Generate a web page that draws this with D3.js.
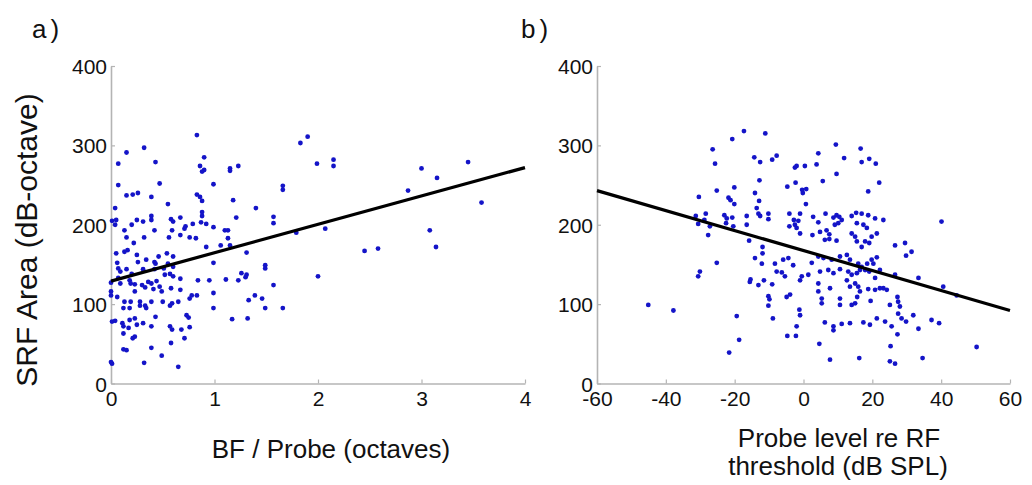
<!DOCTYPE html>
<html>
<head>
<meta charset="utf-8">
<script src="https://cdn.jsdelivr.net/npm/d3@7"></script>
<style>
  html, body { margin: 0; padding: 0; background: #fff; }
  svg { display: block; font-family: "Liberation Sans", Arial, sans-serif; }
</style>
</head>
<body>
<svg id="fig" width="1032" height="485"></svg>
<script>
// Panel a: SRF area vs BF / probe distance (octaves)
const pointsA = [
  [0.83,313],[1.90,311],[1.83,303],[0.32,297],[0.15,291],[0.90,285],[0.07,277],[0.43,279],[0.86,274],[0.90,269],
  [0.88,267],[1.15,271],[1.15,268],[1.23,274],[1.99,277],[2.15,282],[2.15,274],[0.07,250],[0.47,252],[0.99,251],
  [0.15,237],[0.21,238],[0.26,240],[0.39,235],[0.83,238],[0.86,235],[0.88,230],[1.66,249],[1.66,244],[1.18,231],
  [0.55,226],[0.04,221],[1.40,221],[0.88,216],[0.88,211],[0.01,205],[0.04,200],[0.05,206],[0.13,193],[0.20,200],
  [0.25,206],[0.31,204],[0.39,211],[0.39,206],[0.42,193],[0.58,207],[0.60,204],[0.67,209],[0.71,195],[0.72,198],
  [0.59,193],[0.79,201],[0.87,203],[0.92,201],[0.99,197],[1.10,193],[1.13,193],[1.21,209],[1.57,210],[1.57,202],
  [1.79,190],[2.07,195],[0.76,184],[0.82,183],[0.15,184],[0.32,184],[0.56,184],
  [0.22,177],[0.67,187],[0.92,172],[1.06,174],[1.13,183],[1.15,174],[0.16,168],[0.13,166],[0.05,164],[0.25,162],
  [0.26,153],[0.34,156],[0.42,153],[0.43,151],[0.46,160],[0.54,164],[0.60,160],[0.06,152],[0.07,145],[0.09,141],
  [0.15,144],[0.20,138],[0.31,144],[0.42,144],[0.51,145],[0.55,151],[0.60,147],[0.52,137],[0.57,138],[0.60,135],
  [0.67,132],[0.99,152],[1.31,165],[1.49,149],[1.49,145],[1.26,139],[1.30,134],[1.31,137],[1.23,130],[1.11,131],
  [0.95,130],[0.84,130],[2.00,135],[0.00,127],[0.00,116],[0.07,133],[0.09,126],[0.18,130],[0.19,126],[0.23,125],
  [0.30,124],[0.33,121],[0.36,128],[0.39,126],[0.44,129],[0.47,122],[0.49,116],[0.58,120],[0.67,118],[0.23,116],
  [0.41,119],[0.00,111],[0.06,109],[0.13,103],[0.12,95],[0.19,103],[0.18,95],[0.28,103],[0.28,98],[0.33,98],
  [0.34,95],[0.39,103],[0.50,103],[0.57,98],[0.59,101],[0.65,103],[0.76,107],[0.78,111],[0.83,111],[0.99,114],
  [0.99,95],[1.39,111],[1.46,107],[1.33,105],[1.49,95],[1.66,95],[1.17,81],[1.32,82],[0.01,78],[0.04,79],
  [0.11,76],[0.12,72],[0.18,80],[0.23,82],[0.25,74],[0.17,70],[0.12,63],[0.21,57],[0.23,59],[0.31,76],
  [0.39,72],[0.43,84],[0.57,72],[0.59,68],[0.68,68],[0.73,86],[0.75,83],[0.76,71],[0.71,57],[0.58,51],
  [0.12,43],[0.15,42],[0.39,45],[0.49,35],[0.32,26],[0.00,27],[0.01,25],[0.65,21],[1.57,124],
  [2.45,167],[2.58,170],[2.87,243],[3.00,271],[3.15,259],[3.08,193],[3.14,172],[3.45,279],[3.58,228]
];

// Panel b: SRF area vs probe level re RF threshold (dB SPL)
const pointsB = [
  [-17.3,318],[-11.1,315],[-20.7,308],[-26.4,295],[-25.7,277],[-14.3,285],[-12.6,279],[-9.1,282],[-7.8,287],[-2.5,272],
  [-2.0,274],[-12.8,256],[-2.3,253],[-25.2,243],[-20.1,247],[-4.7,248],[-30.4,235],[-21.8,234],[-21.2,231],[-14.1,240],
  [-20.1,226],[-12.9,230],[-13.6,221],[-13.1,214],[-12.6,211],[-10.2,214],[-10.2,207],[-31.3,211],[-28.4,214],[-23.0,212],
  [-22.3,208],[-20.7,209],[-16.5,211],[-4.1,214],[-2.8,206],[-1.5,205],[-4.1,198],[-2.5,200],[-27.2,198],[-30.6,201],
  [-28.8,206],
  [-27.7,187],[-22.5,202],[-20.4,198],[-16.5,200],[-15.8,180],[-11.9,172],[-11.9,164],[-14.1,158],[-25.2,152],[-30.1,141],
  [-30.6,135],[-12.1,151],[-8.3,151],[-5.9,156],[-4.4,158],[-3.0,149],[-7.8,141],[-6.3,140],[-5.4,135],[-15.4,131],
  [-15.6,128],[-13.1,124],[-11.5,130],[-9.1,125],[-1.0,130],[-10.2,110],[-9.9,106],[-4.9,109],[-3.9,112],[-10.2,98],
  [-1.2,93],[-1.0,86],[-8.9,82],[-2.0,72],[-45.1,99],[-37.8,92],[-19.4,85],[-18.7,55],[-21.6,39],[-4.7,60],
  [-2.2,60],[-1.0,189],[-2.0,196],
  [9.4,301],[16.6,296],[4.3,290],[11.8,284],[19.1,283],[21.0,277],[16.9,279],[0.4,274],[3.8,276],[9.6,264],
  [5.6,255],[22.0,253],[-0.4,244],[-0.2,240],[0.8,245],[18.8,242],[0.7,226],[40.1,204],[-1.0,214],[2.8,210],
  [4.3,203],[6.4,214],[8.7,209],[9.6,212],[10.4,210],[11.1,206],[10.1,202],[9.1,200],[14.0,211],[15.3,215],
  [16.9,214],[18.8,212],[20.8,208],[23.2,206],[15.5,202],[17.4,200],[18.4,196],[2.6,187],[4.8,191],[6.7,193],
  [7.5,188],[7.5,182],[6.2,181],[9.6,180],[14.0,189],[15.0,185],[15.5,179],[16.9,172],[17.9,179],[19.1,177],
  [19.8,185],[21.3,189],[26.6,174],[29.5,177],[31.4,166],[29.8,161],[2.4,152],[4.3,160],[5.8,158],[8.2,156],
  [10.6,160],[12.6,162],[13.5,156],[15.9,151],[16.9,147],[17.9,143],[19.1,141],[18.5,151],[19.8,156],[21.3,159],
  [20.3,151],[10.6,144],[13.0,141],[14.0,137],[15.5,139],[16.4,143],[-0.5,135],[1.4,137],[4.8,141],[7.2,143],
  [8.7,139],[22.2,143],[26.6,137],[33.4,133],[40.6,122],[44.5,111],[20.8,133],[23.2,120],[24.2,118],[12.6,130],
  [13.5,122],[15.0,126],[15.9,122],[16.4,116],[15.6,109],[15.0,101],[14.0,99],[4.3,126],[4.3,116],[5.3,107],
  [5.3,101],[7.7,120],[10.6,107],[10.6,99],[18.8,119],[20.8,118],[22.2,120],[19.5,104],[25.1,99],[27.3,109],
  [27.5,103],[28.0,97],[27.5,88],[28.5,82],[29.8,78],[31.9,86],[33.4,69],[37.2,80],[39.4,76],[6.2,77],
  [8.7,72],[11.1,75],[13.5,76],[17.4,77],[19.3,74],[21.3,82],[23.7,78],[25.6,72],[8.7,67],[27.3,62],
  [4.6,50],[25.3,47],[50.3,46],[7.7,30],[16.2,32],[25.1,28],[26.6,25],[34.6,32]
];

// Linear fit end points for each panel
const fitA = [[0, 129], [4, 272]];
const fitB = [[-60, 243], [60, 92]];

// Axis ranges and tick labels
const xDomainA = [0, 4];
const xTicksA = [0, 1, 2, 3, 4];
const xDomainB = [-60, 60];
const xTicksB = [-60, -40, -20, 0, 20, 40, 60];
const yDomain = [0, 400];
const yTicks = [0, 100, 200, 300, 400];

const svg = d3.select("#fig");
const axisColor = "#b4b4b4";
const dotColor = "#1414c8";
const plainNumber = d => String(d);   // plain ASCII hyphen for negatives

function panel(opts) {
  const x = d3.scaleLinear().domain(opts.xDomain).range([opts.left, opts.right]);
  const y = d3.scaleLinear().domain(yDomain).range([opts.bottom, opts.top]);
  const g = svg.append("g");

  // x axis (ticks point inward)
  const xa = g.append("g").attr("transform", `translate(0,${opts.bottom})`)
    .call(d3.axisBottom(x).tickValues(opts.xTicks).tickFormat(plainNumber)
      .tickSize(-4).tickSizeOuter(0));
  // y axis
  const ya = g.append("g").attr("transform", `translate(${opts.left},0)`)
    .call(d3.axisLeft(y).tickValues(yTicks).tickFormat(plainNumber)
      .tickSize(-4).tickSizeOuter(0));

  [xa, ya].forEach(a => {
    a.select(".domain").attr("stroke", axisColor).attr("stroke-width", 1.6);
    a.selectAll(".tick line").attr("stroke", axisColor).attr("stroke-width", 1.2);
    a.selectAll(".tick text").attr("fill", "#111").style("font-size", "21px")
      .style("font-family", "'Liberation Sans', Arial, sans-serif");
  });
  xa.selectAll(".tick text").attr("dy", null).attr("y", 22);
  ya.selectAll(".tick text").attr("dy", "0.36em").attr("x", -4);

  // scatter points
  g.append("g").selectAll("circle").data(opts.points).join("circle")
    .attr("cx", d => x(d[0])).attr("cy", d => y(d[1]))
    .attr("r", 2.4).attr("fill", dotColor);

  // fit line
  g.append("path").datum(opts.fit)
    .attr("d", d3.line().x(d => x(d[0])).y(d => y(d[1])))
    .attr("stroke", "#000").attr("stroke-width", 3.2).attr("fill", "none");

  // panel letter
  g.append("text").attr("x", opts.letterX).attr("y", 38)
    .attr("letter-spacing", 4).style("font-size", "26px").attr("fill", "#111")
    .text(opts.letter);

  return { x, y, g };
}

const pa = panel({
  points: pointsA, fit: fitA, xDomain: xDomainA, xTicks: xTicksA,
  left: 111, right: 525, top: 66, bottom: 383.5, letter: "a)", letterX: 32
});
const pb = panel({
  points: pointsB, fit: fitB, xDomain: xDomainB, xTicks: xTicksB,
  left: 597, right: 1010, top: 66, bottom: 383.5, letter: "b)", letterX: 521
});

// axis titles
pa.g.append("text").attr("x", 331).attr("y", 458).attr("text-anchor", "middle")
  .style("font-size", "26px").attr("fill", "#111").text("BF / Probe (octaves)");

pa.g.append("text").attr("transform", "translate(37,240) rotate(-90)")
  .attr("text-anchor", "middle").style("font-size", "30px").attr("fill", "#111")
  .text("SRF Area (dB-octave)");

const lb = pb.g.append("text").attr("text-anchor", "middle")
  .style("font-size", "26px").attr("fill", "#111");
lb.append("tspan").attr("x", 839).attr("y", 447).text("Probe level re RF");
lb.append("tspan").attr("x", 838).attr("y", 475).text("threshold (dB SPL)");
</script>
</body>
</html>
